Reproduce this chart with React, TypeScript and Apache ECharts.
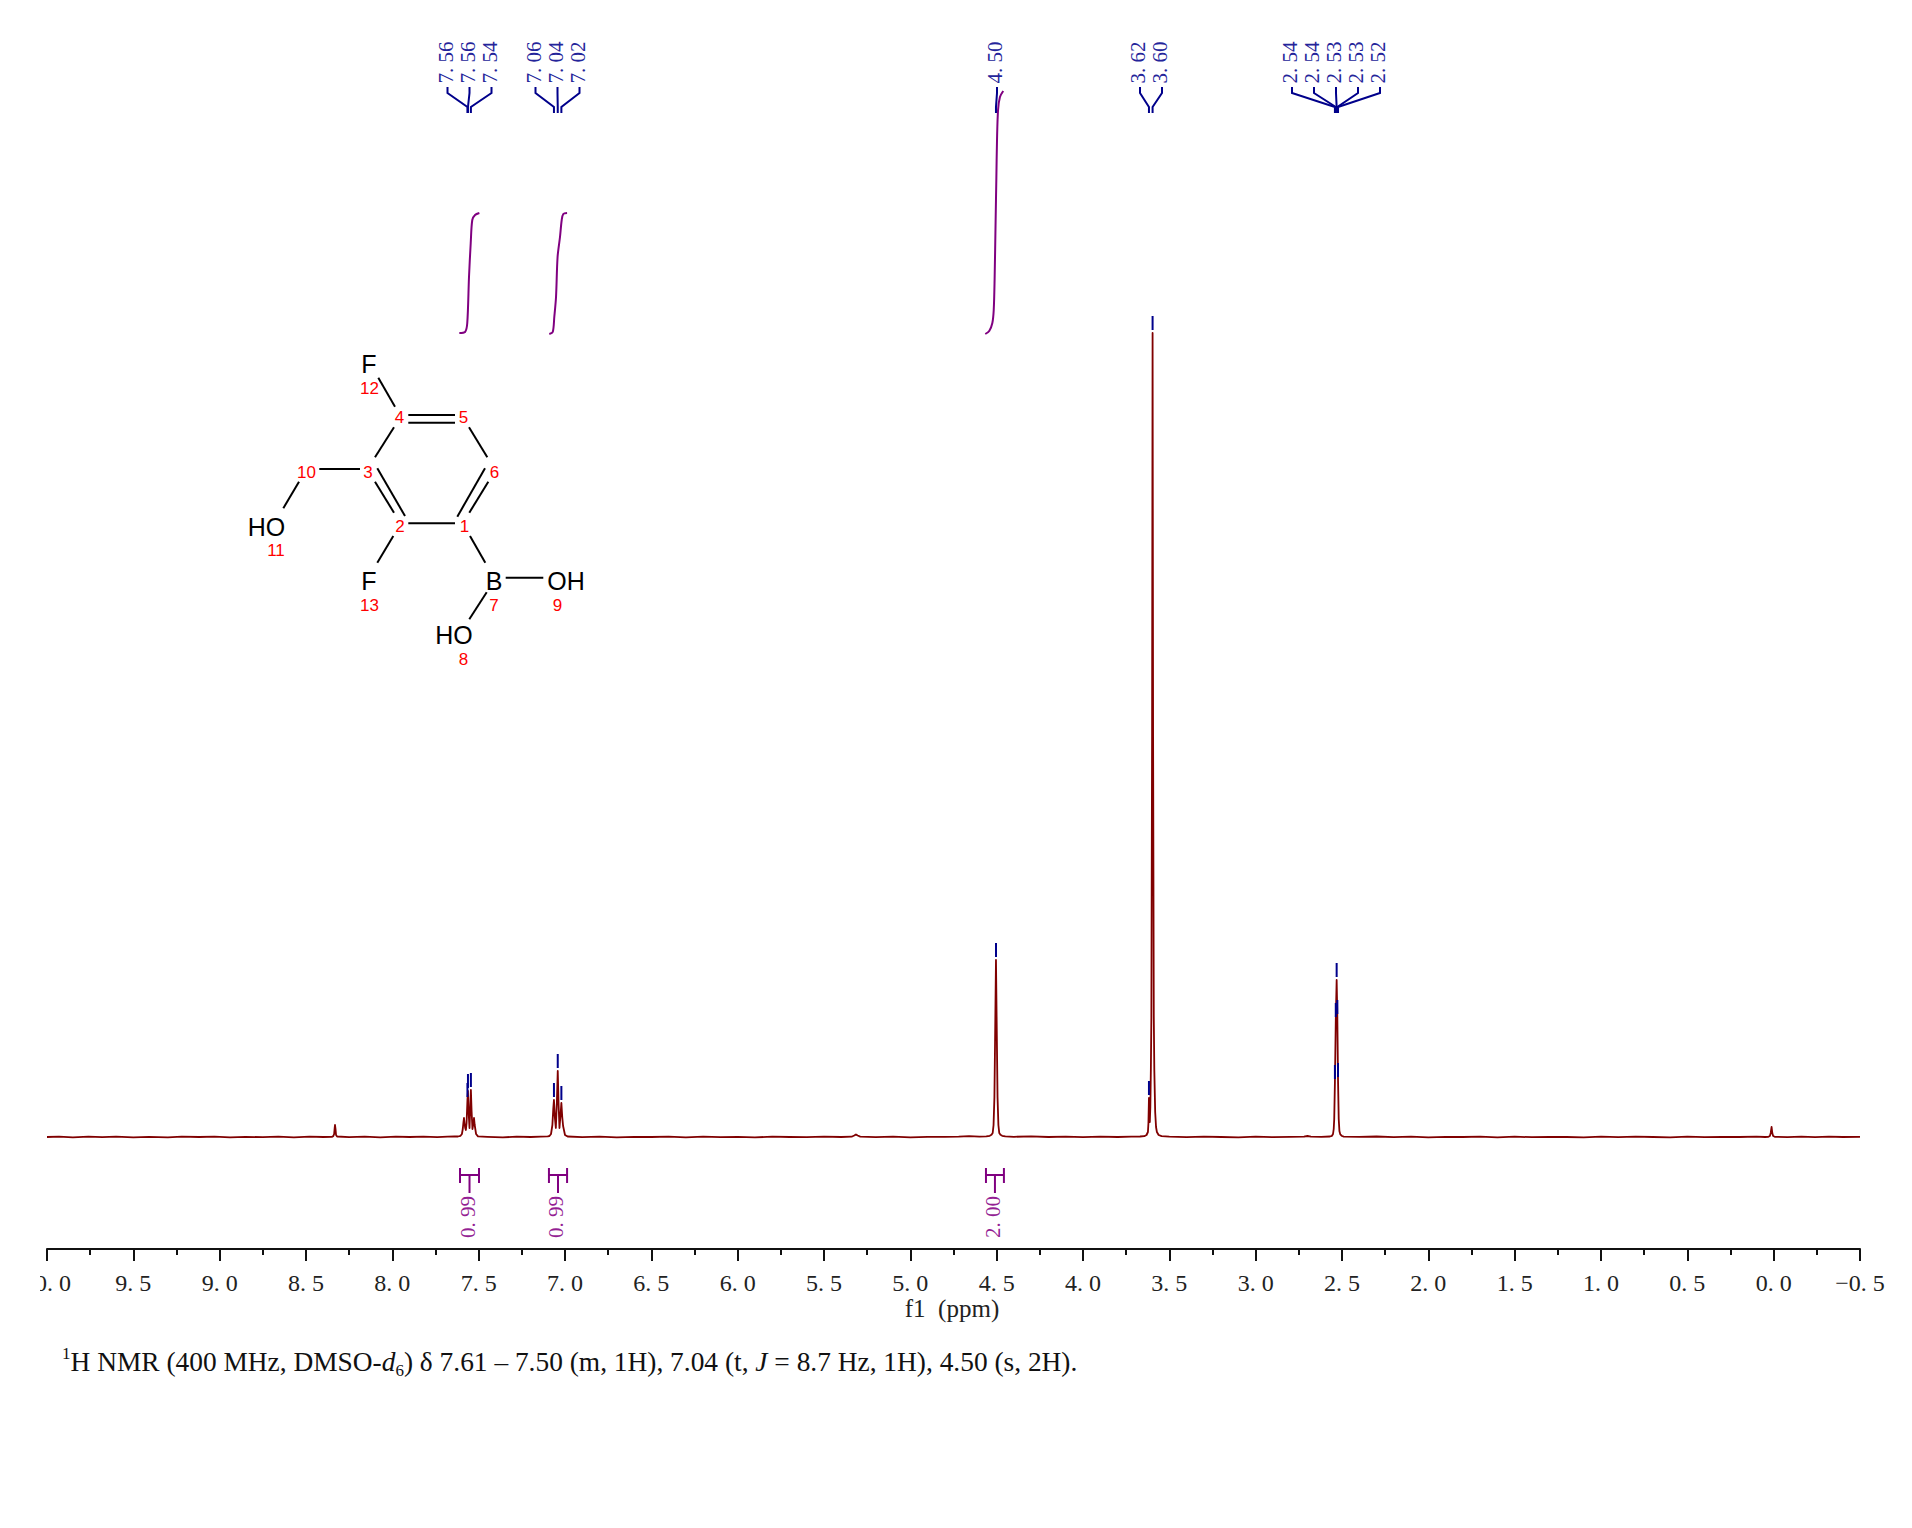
import React, { useEffect, useRef } from "react";
import * as echarts from "echarts";

// ---- spectrum: [chemical shift in ppm, intensity]
const baselineHigh = [
  [10.0, 0], [9.93, 0.4], [9.85, -0.3], [9.76, 0.3], [9.68, -0.2], [9.6, 0.4], [9.5, -0.3], [9.41, 0.2], [9.3, -0.4], [9.22, 0.3],
  [9.12, 0], [9.03, 0.4], [8.94, -0.3], [8.85, 0.2], [8.75, -0.2], [8.66, 0.4], [8.57, -0.3], [8.48, 0.3], [8.4, 0],
];
const impurity833 = [[8.35, 0.2], [8.342, 0.8], [8.337, 3], [8.334, 9], [8.332, 12], [8.329, 8], [8.326, 2], [8.32, 0.5]];
const baselineA = [
  [8.25, -0.2], [8.16, 0.3], [8.07, -0.3], [7.98, 0.3], [7.9, 0], [7.82, 0.4], [7.74, -0.2], [7.68, 0.3], [7.64, 0.5],
];
const aromaticA = [
  [7.62, 0.5], [7.605, 1.2], [7.597, 3], [7.592, 8], [7.588, 15], [7.585, 19], [7.582, 14], [7.578, 9], [7.574, 7],
  [7.57, 14], [7.565, 37], [7.562, 46], [7.558, 24], [7.553, 9], [7.549, 28], [7.545, 47], [7.541, 26], [7.536, 8],
  [7.531, 13], [7.527, 19], [7.523, 12], [7.515, 3], [7.504, 0.6],
];
const baselineB = [[7.45, 0.2], [7.36, -0.3], [7.28, 0.3], [7.2, 0], [7.14, 0.4], [7.1, 0.6]];
const aromaticB = [
  [7.09, 1], [7.081, 3], [7.073, 12], [7.068, 28], [7.064, 37], [7.059, 20], [7.053, 9], [7.047, 35], [7.042, 66], [7.037, 32],
  [7.032, 9], [7.026, 22], [7.021, 34], [7.016, 20], [7.011, 11], [7.0, 2], [6.985, 0.5],
];
const baselineC = [
  [6.9, -0.2], [6.8, 0.3], [6.7, -0.3], [6.6, 0.2], [6.5, 0], [6.4, 0.3], [6.3, -0.3], [6.2, 0.3], [6.1, -0.2], [6, 0.2],
  [5.9, -0.3], [5.8, 0.3], [5.7, 0], [5.6, -0.2], [5.5, 0.3], [5.4, 0],
];
const impurity532 = [[5.34, 0.3], [5.325, 1.5], [5.315, 2.6], [5.305, 1.5], [5.29, 0.4]];
const baselineD = [
  [5.2, -0.2], [5.1, 0.3], [5, -0.3], [4.9, 0.2], [4.8, 0.1], [4.72, 0.4], [4.66, 0.9], [4.6, 0.3],
];
const methylene = [
  [4.56, 0.6], [4.54, 1.2], [4.53, 2.2], [4.523, 4], [4.518, 12], [4.513, 40], [4.509, 100], [4.504, 177], [4.499, 100],
  [4.495, 40], [4.49, 12], [4.485, 4], [4.478, 2.2], [4.468, 1.2], [4.45, 0.6],
];
const baselineE = [[4.4, 0.2], [4.3, 0.7], [4.2, 0], [4.1, 0.3], [4, -0.2], [3.9, 0.3], [3.8, 0], [3.72, 0.4], [3.67, 0.5]];
const waterRegion = [
  [3.645, 0.8], [3.632, 2], [3.624, 5], [3.621, 14], [3.618, 39], [3.616, 28], [3.613, 15], [3.61, 30], [3.607, 67], [3.604, 120],
  [3.6, 400], [3.597, 804], [3.594, 400], [3.59, 120], [3.587, 67], [3.582, 25], [3.577, 10], [3.572, 5], [3.562, 2], [3.545, 0.8],
];
const baselineF = [
  [3.5, 0.3], [3.4, -0.2], [3.3, 0.3], [3.2, 0], [3.1, -0.3], [3, 0.3], [2.9, -0.2], [2.8, 0.2], [2.72, 0.3], [2.7, 1], [2.68, 0.3], [2.62, 0.2],
];
const solvent = [
  [2.57, 0.5], [2.558, 1.2], [2.552, 3], [2.548, 8], [2.545, 18], [2.541, 55], [2.536, 117], [2.531, 157], [2.527, 120], [2.523, 57],
  [2.519, 18], [2.515, 6], [2.51, 2.6], [2.5, 1], [2.49, 0.4],
];
const baselineG = [
  [2.4, 0.1], [2.3, 0.5], [2.2, -0.2], [2.1, 0.3], [2, -0.3], [1.9, 0.2], [1.8, 0], [1.7, 0.3], [1.6, -0.3], [1.5, 0.3], [1.4, -0.2],
  [1.3, 0.2], [1.2, 0], [1.1, -0.3], [1, 0.3], [0.9, -0.2], [0.8, 0.3], [0.7, 0], [0.6, -0.3], [0.5, 0.3], [0.4, -0.2], [0.3, 0.2],
  [0.2, 0], [0.1, 0.3], [0.05, 0],
];
const tms = [[0.03, 0.2], [0.022, 1], [0.017, 4], [0.012, 10], [0.008, 4], [0.003, 1], [-0.006, 0.2]];
const baselineH = [[-0.08, -0.2], [-0.16, 0.3], [-0.24, -0.2], [-0.32, 0.3], [-0.4, 0], [-0.5, 0.2]];

// ---- integral curves
const integralA = [
  [7.612, 804], [7.579, 805], [7.566, 814], [7.556, 860], [7.546, 894], [7.537, 917], [7.521, 922], [7.496, 924],
];
const integralB = [
  [7.091, 803], [7.071, 805], [7.062, 820], [7.052, 840], [7.043, 880], [7.029, 900], [7.019, 917], [7.01, 923], [6.988, 924],
];
const integralC = [
  [4.566, 803], [4.543, 806], [4.525, 814], [4.517, 827], [4.512, 857], [4.506, 917], [4.502, 957], [4.498, 997], [4.492, 1027],
  [4.481, 1040], [4.462, 1046],
];
const integralFrom = [7.608, 7.093, 4.562];
const integralTo = [7.498, 6.988, 4.458];
const integralValues = ["0.99", "0.99", "2.00"];

// ---- peak picking
const peakLabels = ["7.56", "7.56", "7.54", "7.06", "7.04", "7.02", "4.50", "3.62", "3.60", "2.54", "2.54", "2.53", "2.53", "2.52"];
const peakPpm = [7.565, 7.562, 7.545, 7.064, 7.042, 7.021, 4.504, 3.618, 3.597, 2.541, 2.536, 2.531, 2.527, 2.523];
const peakHeights = [37, 46, 47, 37, 66, 34, 177, 39, 804, 55, 117, 157, 120, 57];

// ---- axis
const axisMin = -0.5;
const axisMax = 10;
const axisStep = 0.5;
const axisName = "f1  (ppm)";
const footerText = "{sup|1}H NMR (400 MHz, DMSO-{i|d}{sub|6}) δ 7.61 – 7.50 (m, 1H), 7.04 (t, {i|J} = 8.7 Hz, 1H), 4.50 (s, 2H).";

// ---- layout (pixels)
const peakLabelX = [445.5, 467.5, 489.5, 533.5, 555.5, 577.5, 995, 1138, 1160, 1290, 1312, 1334, 1356, 1378];
const SERIF = '"Liberation Serif", serif';
const SANS = '"Liberation Sans", sans-serif';
const SPECTRUM = "#800000";
const PEAK = "#00008b";
const INTEGRAL = "#800080";

const wide = (s: string) => s.replace(".", ". ");

// molecule bonds, in pixels
const bonds = [
  [378.3, 377.7, 395, 406.7],
  [408.3, 415, 455, 415],
  [408.3, 422.7, 455, 422.7],
  [469, 427.3, 487.3, 457.3],
  [485, 468.3, 457.3, 516.7],
  [488.3, 481.7, 469.3, 512.7],
  [408.3, 523.3, 455, 523.3],
  [377.3, 468.3, 405, 516],
  [375, 481.7, 394, 512.7],
  [375, 457.3, 394, 427.3],
  [319.3, 469, 360, 469],
  [299, 481.7, 283.3, 508.3],
  [393.3, 536, 377.3, 562.7],
  [470, 536, 485.3, 562.7],
  [505.7, 577.7, 543.3, 577.7],
  [486.7, 592.3, 469.3, 619.3],
];
// atoms: text, x, y
const atoms: [string, number, number][] = [
  ["F", 369, 363.5], ["HO", 266.5, 527], ["F", 369, 580.5], ["B", 494, 581], ["OH", 566, 581], ["HO", 454, 635],
];
const atomNumbers: [string, number, number][] = [
  ["12", 369.5, 388], ["4", 399.5, 417.5], ["5", 463.5, 417.5], ["6", 494.5, 472.5], ["3", 368, 472.5], ["10", 306.5, 472.5],
  ["2", 400, 526], ["1", 464.5, 526], ["11", 276, 550], ["13", 369.5, 605], ["7", 494, 605], ["9", 557.5, 605], ["8", 463.5, 659],
];

const lineSeries = (data: number[][], color: string, width: number, smooth: number) => ({
  type: "line",
  data,
  showSymbol: false,
  symbol: "none",
  silent: true,
  clip: false,
  smooth,
  lineStyle: { color, width, join: "round" },
});

export default function App() {
  const ref = useRef<HTMLDivElement>(null);
  useEffect(() => {
    document.body.style.margin = "0";
    const chart = echarts.init(ref.current!, null, { renderer: "svg" });
    const spectrum = [
      ...baselineHigh, ...impurity833, ...baselineA, ...aromaticA, ...baselineB, ...aromaticB, ...baselineC, ...impurity532,
      ...baselineD, ...methylene, ...baselineE, ...waterRegion, ...baselineF, ...solvent, ...baselineG, ...tms, ...baselineH,
    ];
    const peakStyle = { stroke: PEAK, fill: "none", lineWidth: 2 };
    const integralStyle = { stroke: INTEGRAL, fill: "none", lineWidth: 2 };
    chart.setOption({
      animation: false,
      backgroundColor: "#fff",
      grid: { left: 47, right: 52, top: 0, bottom: 279, containLabel: false },
      xAxis: {
        type: "value",
        inverse: true,
        min: axisMin,
        max: axisMax,
        interval: axisStep,
        splitLine: { show: false },
        axisLine: { show: true, onZero: false, lineStyle: { color: "#111", width: 2 } },
        axisTick: { show: true, length: 12, lineStyle: { color: "#111", width: 2 } },
        minorTick: { show: true, splitNumber: 2, length: 6, lineStyle: { color: "#111", width: 2 } },
        axisLabel: {
          show: true,
          margin: 22,
          color: "#222",
          fontFamily: SERIF,
          fontSize: 24,
          showMinLabel: true,
          showMaxLabel: true,
          hideOverlap: false,
          formatter: (v: number) => wide(v < 0 ? "\u2212" + Math.abs(v).toFixed(1) : v.toFixed(1)),
        },
      },
      yAxis: { type: "value", min: -112, max: 1137, show: false, scale: true, splitLine: { show: false } },
      series: [
        lineSeries(spectrum, SPECTRUM, 1.8, 0),
        lineSeries(integralA, INTEGRAL, 2, 0.3),
        lineSeries(integralB, INTEGRAL, 2, 0.3),
        lineSeries(integralC, INTEGRAL, 2, 0.3),
        {
          type: "custom",
          silent: true,
          clip: false,
          z: 5,
          encode: { x: 0, y: 1 },
          data: peakPpm.map((p, i) => [p, peakHeights[i]]),
          renderItem: (params: any, api: any) => {
            const i = params.dataIndex;
            const [px, top] = api.coord([api.value(0), api.value(1)]);
            const lx = peakLabelX[i];
            return {
              type: "group",
              children: [
                { type: "polyline", shape: { points: [[lx + 2, 87], [lx + 2, 93], [px, 107], [px, 113]] }, style: peakStyle },
                { type: "line", shape: { x1: px, y1: top - 17, x2: px, y2: top - 3 }, style: peakStyle },
                {
                  type: "text",
                  x: lx,
                  y: 62.5,
                  rotation: Math.PI / 2,
                  style: {
                    text: wide(peakLabels[i]),
                    fill: "#24249a",
                    font: `21px ${SERIF}`,
                    align: "center",
                    verticalAlign: "middle",
                  },
                },
              ],
            };
          },
        },
        {
          type: "custom",
          silent: true,
          clip: false,
          z: 5,
          encode: { x: [0, 1] },
          data: integralFrom.map((p, i) => [p, integralTo[i]]),
          renderItem: (params: any, api: any) => {
            const i = params.dataIndex;
            const x1 = api.coord([api.value(0), 0])[0];
            const x2 = api.coord([api.value(1), 0])[0];
            const mid = (x1 + x2) / 2;
            return {
              type: "group",
              children: [
                { type: "line", shape: { x1, y1: 1168, x2: x1, y2: 1183 }, style: integralStyle },
                { type: "line", shape: { x1: x2, y1: 1168, x2, y2: 1183 }, style: integralStyle },
                { type: "line", shape: { x1, y1: 1175, x2, y2: 1175 }, style: integralStyle },
                { type: "line", shape: { x1: mid, y1: 1175, x2: mid, y2: 1193 }, style: integralStyle },
                {
                  type: "text",
                  x: mid - 2,
                  y: 1217,
                  rotation: Math.PI / 2,
                  style: {
                    text: wide(integralValues[i]),
                    fill: "#941f94",
                    font: `21px ${SERIF}`,
                    align: "center",
                    verticalAlign: "middle",
                  },
                },
              ],
            };
          },
        },
      ],
      graphic: {
        elements: [
          { type: "rect", z: 100, shape: { x: 0, y: 1264, width: 40, height: 40 }, style: { fill: "#fff" } },
          {
            type: "text",
            z: 100,
            x: 952,
            y: 1308,
            style: { text: axisName, fill: "#222", font: `25px ${SERIF}`, align: "center", verticalAlign: "middle" },
          },
          {
            type: "text",
            z: 100,
            x: 62,
            y: 1362,
            style: {
              text: footerText,
              fill: "#111",
              font: `27.4px ${SERIF}`,
              align: "left",
              verticalAlign: "middle",
              lineHeight: 34,
              rich: {
                sup: { fontSize: 17, fontFamily: SERIF, fill: "#111", verticalAlign: "top", lineHeight: 34 },
                sub: { fontSize: 17, fontFamily: SERIF, fill: "#111", verticalAlign: "bottom", lineHeight: 34 },
                i: { fontSize: 27.4, fontFamily: SERIF, fontStyle: "italic", fill: "#111", lineHeight: 34 },
              },
            },
          },
          ...bonds.map((b) => ({
            type: "line",
            z: 100,
            shape: { x1: b[0], y1: b[1], x2: b[2], y2: b[3] },
            style: { stroke: "#000", lineWidth: 2 },
          })),
          ...atoms.map((a) => ({
            type: "text",
            z: 101,
            x: a[1],
            y: a[2],
            style: { text: a[0], fill: "#000", font: `25px ${SANS}`, align: "center", verticalAlign: "middle" },
          })),
          ...atomNumbers.map((a) => ({
            type: "text",
            z: 101,
            x: a[1],
            y: a[2],
            style: { text: a[0], fill: "#f00", font: `17px ${SANS}`, align: "center", verticalAlign: "middle" },
          })),
        ],
      },
    });
    return () => chart.dispose();
  }, []);
  return <div ref={ref} style={{ width: 1912, height: 1528, display: "block" }} />;
}
